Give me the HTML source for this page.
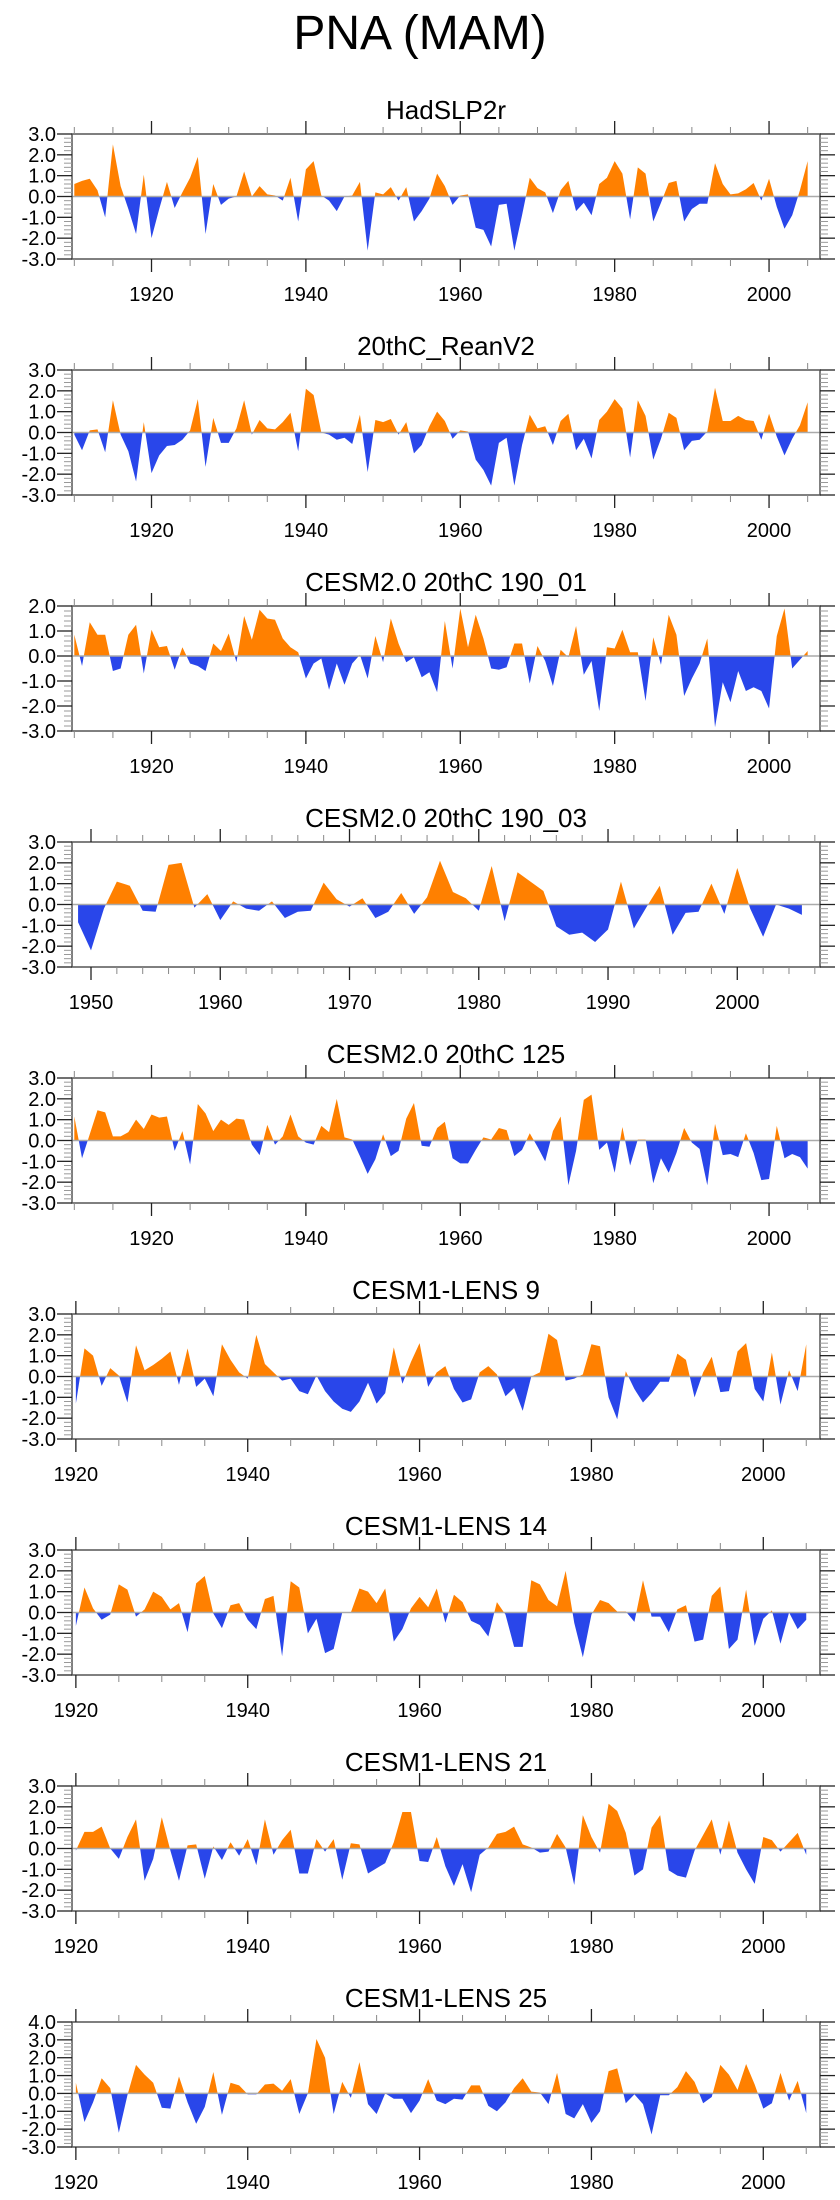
<!DOCTYPE html>
<html><head><meta charset="utf-8"><style>
html,body{margin:0;padding:0;background:#fff;}
svg{display:block;font-family:"Liberation Sans",sans-serif;}
</style></head><body>
<svg id="chart" width="840" height="2200" viewBox="0 0 840 2200" xmlns="http://www.w3.org/2000/svg">
<text x="420" y="49" font-size="48" text-anchor="middle">PNA (MAM)</text>
</svg>
<script>
const titles = ["HadSLP2r","20thC_ReanV2","CESM2.0 20thC 190_01","CESM2.0 20thC 190_03","CESM2.0 20thC 125","CESM1-LENS 9","CESM1-LENS 14","CESM1-LENS 21","CESM1-LENS 25"];
const startYears = [1910,1910,1910,1949,1910,1920,1920,1920,1920];
const hadslp2r = [0.6,0.75,0.85,0.3,-1.0,2.5,0.5,-0.6,-1.8,1.05,-2.0,-0.6,0.7,-0.55,0.2,0.9,1.9,-1.8,0.6,-0.4,-0.1,0.0,1.2,0.0,0.5,0.1,0.05,-0.2,0.9,-1.2,1.3,1.7,0.05,-0.2,-0.7,0.0,0.05,0.7,-2.6,0.2,0.1,0.45,-0.2,0.45,-1.2,-0.7,-0.1,1.1,0.5,-0.4,0.05,0.1,-1.5,-1.6,-2.4,-0.4,-0.35,-2.6,-0.9,0.9,0.4,0.2,-0.8,0.3,0.75,-0.7,-0.3,-0.9,0.6,0.9,1.7,1.1,-1.1,1.4,1.1,-1.2,-0.3,0.65,0.75,-1.2,-0.6,-0.35,-0.35,1.6,0.6,0.1,0.15,0.35,0.65,-0.2,0.85,-0.5,-1.55,-0.9,0.3,1.7];
const reanV2 = [-0.1,-0.85,0.1,0.15,-0.95,1.55,-0.1,-0.9,-2.35,0.5,-1.95,-1.1,-0.65,-0.6,-0.35,0.1,1.6,-1.65,0.7,-0.5,-0.5,0.2,1.55,-0.1,0.6,0.2,0.15,0.5,0.95,-0.9,2.1,1.8,0.0,-0.1,-0.35,-0.25,-0.55,0.85,-1.9,0.6,0.5,0.65,-0.1,0.5,-1.0,-0.6,0.3,1.0,0.55,-0.3,0.1,0.05,-1.3,-1.8,-2.55,-0.5,-0.25,-2.55,-0.6,0.85,0.2,0.3,-0.6,0.55,0.9,-0.85,-0.3,-1.25,0.6,1.0,1.6,1.15,-1.2,1.55,0.8,-1.3,-0.3,0.95,0.7,-0.85,-0.4,-0.35,0.05,2.15,0.55,0.55,0.8,0.6,0.55,-0.35,0.9,-0.2,-1.1,-0.3,0.35,1.45];
const cesm2_190_01 = [0.85,-0.4,1.35,0.85,0.85,-0.6,-0.5,0.85,1.25,-0.7,1.05,0.35,0.4,-0.55,0.35,-0.3,-0.4,-0.6,0.5,0.2,0.9,-0.25,1.6,0.65,1.85,1.5,1.45,0.7,0.35,0.15,-0.9,-0.3,-0.1,-1.35,-0.3,-1.15,-0.3,0.05,-0.9,0.8,-0.25,1.5,0.5,-0.25,-0.05,-0.85,-0.65,-1.45,1.4,-0.5,1.9,0.35,1.65,0.7,-0.5,-0.55,-0.45,0.5,0.5,-1.1,0.4,-0.2,-1.2,0.25,-0.05,1.2,-0.75,-0.2,-2.2,0.35,0.3,1.05,0.15,0.15,-1.8,0.75,-0.35,1.65,0.85,-1.6,-0.9,-0.3,0.7,-2.85,-1.05,-1.85,-0.6,-1.4,-1.25,-1.4,-2.1,0.8,1.9,-0.5,-0.15,0.2];
const cesm2_190_03 = [-0.85,-2.2,-0.2,1.1,0.9,-0.3,-0.35,1.9,2.0,-0.15,0.5,-0.75,0.15,-0.2,-0.3,0.15,-0.65,-0.35,-0.3,1.05,0.25,-0.1,0.3,-0.65,-0.35,0.55,-0.45,0.35,2.1,0.6,0.3,-0.3,1.85,-0.8,1.55,1.1,0.65,-1.05,-1.45,-1.35,-1.8,-1.2,1.1,-1.15,-0.1,0.9,-1.45,-0.4,-0.35,1.0,-0.45,1.75,-0.2,-1.55,0.0,-0.2,-0.5];
const cesm2_125 = [1.15,-0.85,0.3,1.45,1.35,0.2,0.2,0.4,1.0,0.55,1.25,1.1,1.15,-0.5,0.45,-1.15,1.75,1.3,0.45,1.0,0.75,1.05,1.0,-0.2,-0.7,0.75,-0.2,0.2,1.25,0.2,-0.1,-0.2,0.7,0.4,2.0,0.15,0.05,-0.75,-1.6,-0.9,0.3,-0.75,-0.5,1.05,1.8,-0.25,-0.3,0.6,0.9,-0.85,-1.1,-1.1,-0.45,0.15,0.05,0.6,0.5,-0.75,-0.45,0.35,-0.3,-1.0,0.45,1.15,-2.15,-0.5,1.95,2.2,-0.45,-0.1,-1.55,0.65,-1.2,0.05,0.05,-2.05,-0.85,-1.55,-0.6,0.6,-0.1,-0.4,-2.15,0.8,-0.7,-0.65,-0.8,0.35,-0.6,-1.9,-1.85,0.7,-0.85,-0.65,-0.8,-1.35];
const lens9 = [-1.3,1.35,1.0,-0.45,0.4,0.05,-1.25,1.5,0.3,0.55,0.85,1.2,-0.4,1.35,-0.5,-0.1,-0.95,1.55,0.8,0.2,-0.1,2.0,0.6,0.2,-0.2,-0.1,-0.7,-0.85,0.05,-0.7,-1.2,-1.55,-1.7,-1.2,-0.3,-1.3,-0.8,1.4,-0.35,0.7,1.6,-0.5,0.2,0.5,-0.6,-1.25,-1.1,0.2,0.5,0.1,-0.95,-0.55,-1.65,0.0,0.2,2.05,1.75,-0.2,-0.1,0.1,1.55,1.45,-1.0,-2.05,0.25,-0.6,-1.25,-0.8,-0.25,-0.25,1.1,0.8,-1.0,0.2,0.95,-0.75,-0.7,1.2,1.6,-0.6,-1.2,1.15,-1.35,0.3,-0.7,1.55];
const lens14 = [-0.65,1.2,0.2,-0.35,-0.1,1.35,1.1,-0.2,0.15,1.0,0.75,0.15,0.45,-0.95,1.4,1.75,-0.05,-0.75,0.35,0.45,-0.35,-0.8,0.65,0.8,-2.1,1.5,1.2,-1.0,-0.3,-1.95,-1.75,0.0,0.0,1.15,1.0,0.45,1.15,-1.4,-0.8,0.2,0.75,0.25,1.15,-0.5,0.85,0.5,-0.4,-0.6,-1.15,0.5,-0.1,-1.65,-1.65,1.55,1.35,0.6,0.3,2.0,-0.5,-2.15,-0.1,0.6,0.45,0.05,0.05,-0.45,1.55,-0.2,-0.2,-0.95,0.15,0.35,-1.4,-1.3,0.8,1.25,-1.75,-1.3,1.1,-1.6,-0.3,0.1,-1.5,0.0,-0.8,-0.35];
const lens21 = [-0.1,0.8,0.8,1.05,0.0,-0.5,0.55,1.4,-1.55,-0.5,1.5,-0.1,-1.55,0.15,0.2,-1.45,0.1,-0.55,0.3,-0.35,0.45,-0.8,1.4,-0.3,0.4,0.9,-1.2,-1.2,0.45,-0.15,0.45,-1.5,0.25,0.2,-1.2,-0.95,-0.7,0.3,1.75,1.75,-0.6,-0.65,0.55,-0.85,-1.8,-0.75,-2.1,-0.3,0.05,0.7,0.8,1.05,0.2,0.05,-0.2,-0.15,0.7,0.05,-1.75,1.6,0.55,-0.2,2.15,1.8,0.75,-1.3,-1.0,1.0,1.6,-1.05,-1.3,-1.4,-0.1,0.65,1.4,-0.3,1.35,-0.2,-1.0,-1.7,0.55,0.4,-0.15,0.3,0.75,-0.3];
const lens25 = [0.6,-1.6,-0.5,0.85,0.3,-2.2,-0.1,1.6,1.05,0.6,-0.8,-0.85,0.95,-0.5,-1.7,-0.75,1.2,-1.2,0.6,0.45,-0.05,-0.05,0.5,0.55,0.15,0.8,-1.15,0.0,3.05,2.0,-1.15,0.65,-0.25,1.75,-0.6,-1.15,0.0,-0.3,-0.3,-1.1,-0.4,0.8,-0.4,-0.6,-0.3,-0.35,0.45,0.45,-0.7,-1.0,-0.5,0.3,0.85,0.1,0.05,-0.6,1.15,-1.15,-1.4,-0.6,-1.65,-1.0,1.25,1.4,-0.55,-0.05,-0.6,-2.3,-0.1,-0.1,0.35,1.25,0.65,-0.55,-0.2,1.6,1.05,0.2,1.65,0.5,-0.85,-0.55,1.15,-0.4,0.7,-1.1];
const seriesList = [hadslp2r,reanV2,cesm2_190_01,cesm2_190_03,cesm2_125,lens9,lens14,lens21,lens25];
const xDomains = [[1909.7,2006.6],[1909.7,2006.6],[1909.7,2006.6],[1948.53,2006.4],[1909.7,2006.6],[1919.55,2006.6],[1919.55,2006.6],[1919.55,2006.6],[1919.55,2006.6]];
const yDomains = [[-3,3],[-3,3],[-3,2],[-3,3],[-3,3],[-3,3],[-3,3],[-3,3],[-3,4]];
const xMajorTicks = [[1920,1940,1960,1980,2000],[1920,1940,1960,1980,2000],[1920,1940,1960,1980,2000],[1950,1960,1970,1980,1990,2000],[1920,1940,1960,1980,2000],[1920,1940,1960,1980,2000],[1920,1940,1960,1980,2000],[1920,1940,1960,1980,2000],[1920,1940,1960,1980,2000]];
const xMinorSteps = [5,5,5,2,5,5,5,5,5];

const NS="http://www.w3.org/2000/svg";
const svg=document.getElementById('chart');
function mk(tag,attrs,parent){const e=document.createElementNS(NS,tag);for(const k in attrs)e.setAttribute(k,attrs[k]);(parent||svg).appendChild(e);return e;}
const L=72,R=820,H=125;
seriesList.forEach((vals,p)=>{
  const top=134+236*p, bot=top+H;
  const g=mk('g',{});
  
  
  const [x0,x1]=xDomains[p],[y0,y1]=yDomains[p];
  const X=v=>L+(v-x0)/(x1-x0)*(R-L);
  const Y=v=>bot-(v-y0)/(y1-y0)*H;
  const t=mk('text',{x:446,y:top-15,'font-size':26,'text-anchor':'middle'},g);
  t.textContent=titles[p];
  
  
  // clip paths
  const cpU=mk('clipPath',{id:'cu'+p},g); mk('rect',{x:L,y:top,width:R-L,height:Y(0)-top},cpU);
  const cpD=mk('clipPath',{id:'cd'+p},g); mk('rect',{x:L,y:Y(0),width:R-L,height:bot-Y(0)},cpD);
  let d='M'+X(startYears[p]).toFixed(2)+','+Y(0).toFixed(2);
  vals.forEach((v,i)=>{d+=' L'+X(startYears[p]+i).toFixed(2)+','+Y(v).toFixed(2);});
  d+=' L'+X(startYears[p]+vals.length-1).toFixed(2)+','+Y(0).toFixed(2)+' Z';
  const pos=mk('path',{d:d,fill:'#ff8000','clip-path':'url(#cu'+p+')'},g);
  
  
  const neg=mk('path',{d:d,fill:'#2946ea','clip-path':'url(#cd'+p+')'},g);
  
  
  const zl=mk('line',{x1:L,x2:R,y1:Y(0),y2:Y(0),stroke:'#aaa','stroke-width':1.5},g);
  
  
  const box=mk('rect',{x:L,y:top,width:R-L,height:H,fill:'none',stroke:'#555','stroke-width':1.5},g);
  
  
  // x ticks
  const ms=xMinorSteps[p];
  for(let yr=Math.ceil(x0/ms)*ms; yr<=x1; yr+=ms){
    const major=xMajorTicks[p].includes(yr);
    const len=major?13:7, xx=X(yr);
    mk('line',{x1:xx,x2:xx,y1:top,y2:top-len,stroke:major?'#222':'#888','stroke-width':major?1.3:1},g);
    mk('line',{x1:xx,x2:xx,y1:bot,y2:bot+len,stroke:major?'#222':'#888','stroke-width':major?1.3:1},g);
  }
  xMajorTicks[p].forEach(yr=>{
    const tl=mk('text',{x:X(yr),y:bot+42,'font-size':20,'text-anchor':'middle'},g);
    tl.textContent=String(yr);
    
    
  });
  // y ticks
  for(let k=Math.round(y0*5);k<=Math.round(y1*5);k++){
    const v=k/5, yy=Y(v), major=(k%5===0), len=major?15:8;
    mk('line',{x1:L,x2:L-len,y1:yy,y2:yy,stroke:major?'#222':'#999','stroke-width':major?1.3:1},g);
    mk('line',{x1:R,x2:R+len,y1:yy,y2:yy,stroke:major?'#222':'#999','stroke-width':major?1.3:1},g);
    if(major){
      const yl=mk('text',{x:56,y:yy+7,'font-size':20,'text-anchor':'end'},g);
      yl.textContent=v.toFixed(1);
      
      
    }
  }
});
</script>
</body></html>
